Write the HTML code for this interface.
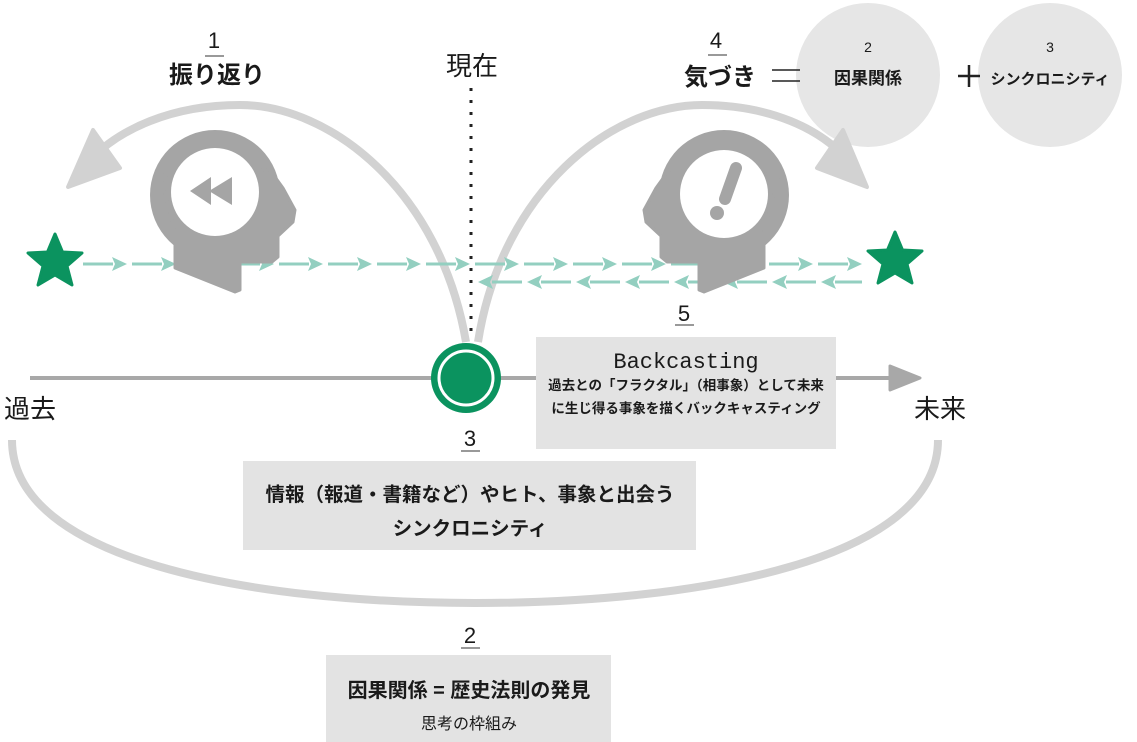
<!DOCTYPE html>
<html><head><meta charset="utf-8"><style>
html,body{margin:0;padding:0;background:#fff;}
svg{display:block;}
text{font-family:"Liberation Sans","Noto Sans CJK JP",sans-serif;fill:#1a1a1a;}
</style></head><body>
<svg width="1137" height="742" viewBox="0 0 1137 742" xmlns="http://www.w3.org/2000/svg">
<circle cx="868" cy="75" r="72" fill="#e6e6e6"/>
<circle cx="1050" cy="75" r="72" fill="#e6e6e6"/>
<text x="868" y="52" font-size="14" text-anchor="middle">2</text>
<text x="868" y="84" font-size="17" font-weight="bold" text-anchor="middle">因果関係</text>
<text x="1050" y="52" font-size="14" text-anchor="middle">3</text>
<text x="1050" y="84" font-size="15" font-weight="bold" text-anchor="middle">シンクロニシティ</text>

<text x="214" y="48" font-size="22" text-anchor="middle">1</text>
<line x1="205" y1="56" x2="224" y2="56" stroke="#333" stroke-width="1"/>
<text x="217" y="83" font-size="24" font-weight="bold" text-anchor="middle">振り返り</text>
<text x="472" y="75" font-size="26" text-anchor="middle">現在</text>
<text x="716" y="48" font-size="22" text-anchor="middle">4</text>
<line x1="708" y1="55" x2="727" y2="55" stroke="#333" stroke-width="1"/>
<text x="720" y="85" font-size="24" font-weight="bold" text-anchor="middle">気づき</text>
<line x1="772" y1="70" x2="800" y2="70" stroke="#222" stroke-width="1.5"/>
<line x1="772" y1="81" x2="800" y2="81" stroke="#222" stroke-width="1.5"/>
<line x1="958" y1="76" x2="980" y2="76" stroke="#222" stroke-width="2.5"/>
<line x1="969" y1="65" x2="969" y2="87" stroke="#222" stroke-width="2.5"/>

<line x1="471" y1="88" x2="471" y2="340" stroke="#222" stroke-width="3" stroke-dasharray="3,9"/>

<path d="M466,342 C440,190 330,105 240,105 C170,105 120,130 92,158" fill="none" stroke="#d2d2d2" stroke-width="8"/>
<path d="M68,187 L93,130 L120,168 Z" fill="#d2d2d2" stroke="#d2d2d2" stroke-width="4" stroke-linejoin="round"/>
<path d="M478,342 C502,190 612,105 702,105 C772,105 820,130 846,158" fill="none" stroke="#d2d2d2" stroke-width="8"/>
<path d="M867,187 L843,130 L817,168 Z" fill="#d2d2d2" stroke="#d2d2d2" stroke-width="4" stroke-linejoin="round"/>
<path d="M12,440 C12,560 250,603 475,603 C700,603 938,560 938,440" fill="none" stroke="#d2d2d2" stroke-width="8"/>

<g fill="#93cfc0" stroke="#93cfc0" stroke-width="3">
<path d="M83,264H113M132,264H162M181,264H211M230,264H260M279,264H309M328,264H358M377,264H407M426,264H456M475,264H505M524,264H554M573,264H603M622,264H652M671,264H701M720,264H750M769,264H799M818,264H848"/>
<path stroke="none" d="M112,257L127,264L112,271L115,264ZM161,257L176,264L161,271L164,264ZM210,257L225,264L210,271L213,264ZM259,257L274,264L259,271L262,264ZM308,257L323,264L308,271L311,264ZM357,257L372,264L357,271L360,264ZM406,257L421,264L406,271L409,264ZM455,257L470,264L455,271L458,264ZM504,257L519,264L504,271L507,264ZM553,257L568,264L553,271L556,264ZM602,257L617,264L602,271L605,264ZM651,257L666,264L651,271L654,264ZM700,257L715,264L700,271L703,264ZM749,257L764,264L749,271L752,264ZM798,257L813,264L798,271L801,264ZM847,257L862,264L847,271L850,264Z"/>
<path d="M492,282H522M541,282H571M590,282H620M639,282H669M688,282H718M737,282H767M786,282H816M835,282H862"/>
<path stroke="none" d="M493,275L478,282L493,289L490,282ZM542,275L527,282L542,289L539,282ZM591,275L576,282L591,289L588,282ZM640,275L625,282L640,289L637,282ZM689,275L674,282L689,289L686,282ZM738,275L723,282L738,289L735,282ZM787,275L772,282L787,289L784,282ZM836,275L821,282L836,289L833,282Z"/>
</g>

<g>
<circle cx="215" cy="195" r="65" fill="#a5a5a5"/>
<path d="M160,175 L175,232 L175,268 L235,292 L240,290 L240,262 L272,262 L278,257 L278,236 L293,222 L295,210 L283,188 L270,170 Z" fill="#a5a5a5" stroke="#a5a5a5" stroke-width="3" stroke-linejoin="round"/>
<circle cx="215" cy="192" r="44" fill="#fff"/>
<path d="M190,191 L211,177 L211,205 Z M209,191 L232,177 L232,205 Z" fill="#a5a5a5"/>
</g>
<g transform="translate(939,0) scale(-1,1)">
<circle cx="215" cy="195" r="65" fill="#a5a5a5"/>
<path d="M160,175 L175,232 L175,268 L235,292 L240,290 L240,262 L272,262 L278,257 L278,236 L293,222 L295,210 L283,188 L270,170 Z" fill="#a5a5a5" stroke="#a5a5a5" stroke-width="3" stroke-linejoin="round"/>
<circle cx="215" cy="194" r="44" fill="#fff"/>
</g>
<line x1="736" y1="168" x2="725" y2="199" stroke="#a5a5a5" stroke-width="12" stroke-linecap="round"/>
<circle cx="717" cy="213" r="7" fill="#a5a5a5"/>

<path d="M55,234 L62.5,252 L82,253 L67,266 L72,285 L55,275 L38,285 L43,266 L28,253 L47.5,252 Z" fill="#0b935f" stroke="#0b935f" stroke-width="3" stroke-linejoin="round"/>
<path d="M895,232 L902.5,250 L922,251 L907,264 L912,283 L895,273 L878,283 L883,264 L868,251 L887.5,250 Z" fill="#0b935f" stroke="#0b935f" stroke-width="3" stroke-linejoin="round"/>

<line x1="30" y1="378" x2="895" y2="378" stroke="#a8a8a8" stroke-width="4"/>
<path d="M890,366 L920,378 L890,390 Z" fill="#a8a8a8" stroke="#a8a8a8" stroke-width="3" stroke-linejoin="round"/>
<circle cx="466" cy="378" r="35" fill="#0b935f"/>
<circle cx="466" cy="378" r="27" fill="none" stroke="#fff" stroke-width="3"/>
<text x="30" y="418" font-size="26" text-anchor="middle">過去</text>
<text x="940" y="418" font-size="26" text-anchor="middle">未来</text>

<text x="684" y="321" font-size="22" text-anchor="middle">5</text>
<line x1="675" y1="325" x2="694" y2="325" stroke="#333" stroke-width="1"/>
<rect x="536" y="337" width="300" height="112" fill="#e3e3e3"/>
<text x="686" y="368" font-size="22" text-anchor="middle" style="font-family:'Liberation Mono',monospace">Backcasting</text>
<text x="686" y="390" font-size="13.5" font-weight="bold" text-anchor="middle">過去との「フラクタル」（相事象）として未来</text>
<text x="686" y="413" font-size="13.5" font-weight="bold" text-anchor="middle">に生じ得る事象を描くバックキャスティング</text>

<text x="470" y="446" font-size="22" text-anchor="middle">3</text>
<line x1="461" y1="451" x2="480" y2="451" stroke="#333" stroke-width="1"/>
<rect x="243" y="461" width="453" height="89" fill="#e3e3e3"/>
<text x="470" y="501" font-size="19.5" font-weight="bold" text-anchor="middle">情報（報道・書籍など）やヒト、事象と出会う</text>
<text x="470" y="535" font-size="19.5" font-weight="bold" text-anchor="middle">シンクロニシティ</text>

<text x="470" y="643" font-size="22" text-anchor="middle">2</text>
<line x1="461" y1="648" x2="480" y2="648" stroke="#333" stroke-width="1"/>
<rect x="326" y="655" width="285" height="87" fill="#e3e3e3"/>
<text x="469" y="697" font-size="20" font-weight="bold" text-anchor="middle">因果関係 = 歴史法則の発見</text>
<text x="469" y="729" font-size="16" text-anchor="middle" fill="#333">思考の枠組み</text>
</svg>
</body></html>
